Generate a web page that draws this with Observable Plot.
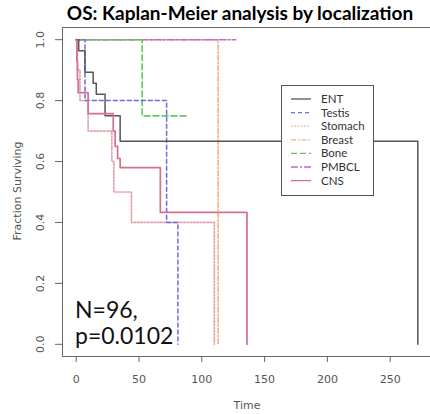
<!DOCTYPE html>
<html>
<head>
<meta charset="utf-8">
<script src="https://cdn.jsdelivr.net/npm/d3@7"></script>
<script src="https://cdn.jsdelivr.net/npm/@observablehq/plot@0.6"></script>
<style>
  html, body { margin: 0; padding: 0; background: #fff; overflow: hidden; }
</style>
</head>
<body>
<div id="chart"></div>
<script>
// ---- data ----
const seriesNames = ["ENT", "Testis", "Stomach", "Breast", "Bone", "PMBCL", "CNS"];

const entTime = [0, 2, 7, 13.5, 16, 23, 35, 272];
const entSurv = [1, 0.964, 0.893, 0.857, 0.821, 0.75, 0.667, 0];

const testisTime = [0, 7, 72, 81];
const testisSurv = [1, 0.8, 0.4, 0];

const stomachTime = [0, 1, 3, 9.5, 28.4, 30, 44, 110];
const stomachSurv = [1, 0.9, 0.8, 0.7, 0.6, 0.5, 0.4, 0];

const breastTime = [0, 113];
const breastSurv = [1, 0];

const boneTime = [0, 52.5, 89];
const boneSurv = [1, 0.75, 0.75];

const pmbclTime = [0, 127];
const pmbclSurv = [1, 1];

const cnsTime = [0, 0.5, 1, 1.6, 9.5, 29.5, 31, 33, 35, 67, 136];
const cnsSurv = [1, 0.93, 0.87, 0.826, 0.757, 0.70, 0.65, 0.61, 0.58, 0.433, 0];

const xTicks = [0, 50, 100, 150, 200, 250];
const yTicks = [0, 0.2, 0.4, 0.6, 0.8, 1.0];
const annotation = ["N=96,", "p=0.0102"];
const title = "OS: Kaplan-Meier analysis by localization";

// ---- styles ----
const styles = {
  ENT:     {stroke: "#555555", dash: null,        width: 1.5},
  Testis:  {stroke: "#6c6cdc", dash: "4,3",       width: 1.5},
  Stomach: {stroke: "#e6a2aa", dash: "1.5,1.8",   width: 1.7},
  Breast:  {stroke: "#f5a97c", dash: "5,2,1.5,2", width: 1.5},
  Bone:    {stroke: "#5cca5c", dash: "6,3",       width: 1.6},
  PMBCL:   {stroke: "#cc62cc", dash: "7,2,2,2",   width: 1.5},
  CNS:     {stroke: "#d6708e", dash: null,        width: 1.7}
};

const seriesData = {
  ENT: [entTime, entSurv],
  Testis: [testisTime, testisSurv],
  Stomach: [stomachTime, stomachSurv],
  Breast: [breastTime, breastSurv],
  Bone: [boneTime, boneSurv],
  PMBCL: [pmbclTime, pmbclSurv],
  CNS: [cnsTime, cnsSurv]
};

const drawOrder = ["Breast", "PMBCL", "Bone", "Stomach", "Testis", "ENT", "CNS"];
const lineMarks = drawOrder.map(name => {
  const [t, s] = seriesData[name];
  const rows = t.map((d, i) => ({time: d, surv: s[i]}));
  const st = styles[name];
  return Plot.line(rows, {
    x: "time", y: "surv", curve: "step-after",
    stroke: st.stroke, strokeWidth: st.width,
    strokeDasharray: st.dash ?? undefined
  });
});

const chart = Plot.plot({
  width: 430,
  height: 414,
  marginLeft: 62,
  marginRight: 0,
  marginTop: 27,
  marginBottom: 58,
  style: {color: "#555", fontFamily: "DejaVu Sans, sans-serif", fontSize: "11px", background: "#fff"},
  x: {domain: [-10.9, 282.1]},
  y: {domain: [-0.04, 1.04]},
  marks: [
    ...lineMarks,
    Plot.frame({stroke: "#666"}),
    Plot.axisX({ticks: xTicks, tickSize: 6, tickPadding: 13, label: null, stroke: "#666", fill: "#555", fontSize: 11}),
    Plot.axisY({ticks: yTicks, tickSize: 7, tickFormat: () => "", label: null, stroke: "#666"}),
    Plot.text(yTicks, {
      y: d => d, text: d => d3.format(".1f")(d), frameAnchor: "left", dx: -22,
      rotate: -90, textAnchor: "middle", lineAnchor: "middle", fill: "#555", fontSize: 11
    })
  ]
});

document.getElementById("chart").appendChild(chart);

// ---- overlay text and legend ----
const svg = d3.select(chart);

svg.append("text")
  .attr("x", 240).attr("y", 20)
  .attr("text-anchor", "middle")
  .attr("font-family", "Lato, sans-serif").attr("font-weight", "bold")
  .attr("font-size", 19).attr("fill", "#000")
  .text(title);

svg.append("text")
  .attr("x", 247).attr("y", 409)
  .attr("text-anchor", "middle")
  .attr("font-family", "DejaVu Sans, sans-serif").attr("font-size", 11).attr("fill", "#555")
  .text("Time");

svg.append("text")
  .attr("transform", "translate(21,191) rotate(-90)")
  .attr("text-anchor", "middle")
  .attr("font-family", "DejaVu Sans, sans-serif").attr("font-size", 11).attr("fill", "#555")
  .text("Fraction Surviving");

annotation.forEach((t, i) => {
  svg.append("text")
    .attr("x", 75).attr("y", 318 + i * 26)
    .attr("text-anchor", "start")
    .attr("font-family", "Lato, sans-serif").attr("font-size", 23).attr("fill", "#111")
    .text(t);
});

const lg = svg.append("g");
lg.append("rect")
  .attr("x", 281.5).attr("y", 85.5).attr("width", 92).attr("height", 110)
  .attr("fill", "#fff").attr("stroke", "#555").attr("stroke-width", 1);
seriesNames.forEach((name, i) => {
  const y = 99 + i * 13.6;
  const st = styles[name];
  lg.append("line")
    .attr("x1", 291).attr("x2", 311).attr("y1", y).attr("y2", y)
    .attr("stroke", st.stroke).attr("stroke-width", 1.3)
    .attr("stroke-dasharray", st.dash);
  lg.append("text")
    .attr("x", 321).attr("y", y).attr("dy", "0.35em")
    .attr("text-anchor", "start")
    .attr("font-family", "Lato, sans-serif").attr("font-size", 11.5).attr("fill", "#333")
    .text(name);
});
</script>
</body>
</html>
